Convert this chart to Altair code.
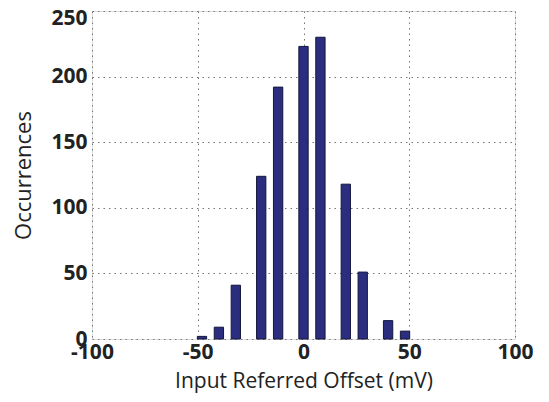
import altair as alt
import pandas as pd

offsets = [-48, -40, -32, -20, -12, 0, 8, 20, 28, 40, 48]
counts = [2, 9, 41, 124, 192, 223, 230, 118, 51, 14, 6]
half_width = 2.2

df = pd.DataFrame({"offset": offsets, "count": counts})
df["x0"] = df["offset"] - half_width
df["x1"] = df["offset"] + half_width

xs = alt.Scale(domain=[-100, 100], nice=False, zero=False)
ys = alt.Scale(domain=[0, 250], nice=False)

font = "Open Sans"

xaxis = alt.Axis(values=[-100, -50, 0, 50, 100], title="Input Referred Offset (mV)",
                 grid=True, gridDash=[1.5, 4], gridColor="#777", gridOpacity=1,
                 ticks=False, domain=False, labelFontSize=21, labelFontWeight="bold",
                 labelFont=font, labelColor="#222", labelPadding=2,
                 labelExpr="toString(datum.value)",
                 titleFont=font, titleFontSize=21, titleFontWeight="normal", titleColor="#222",
                 titlePadding=8, labelFlush=False)
yaxis = alt.Axis(values=[0, 50, 100, 150, 200, 250], title="Occurrences",
                 grid=True, gridDash=[1.5, 4], gridColor="#777", gridOpacity=1,
                 ticks=False, domain=False, labelFontSize=21, labelFontWeight="bold",
                 labelFont=font, labelColor="#222", labelPadding=5,
                 labelOffset={"condition": {"test": "datum.value == 250", "value": 7},
                              "value": 0},
                 titleFont=font, titleFontSize=22, titleFontWeight="normal", titleColor="#222",
                 titlePadding=15)

shadow = alt.Chart(df).mark_bar(color="#999", opacity=0.6, xOffset=1.5).encode(
    x=alt.X("x0:Q", scale=xs, axis=xaxis),
    x2="x1:Q",
    y=alt.Y("count:Q", scale=ys, axis=yaxis),
    y2=alt.datum(0),
)
bars = alt.Chart(df).mark_bar(color="#2b2e7e", stroke="#15173f", strokeWidth=1).encode(
    x=alt.X("x0:Q", scale=xs),
    x2="x1:Q",
    y=alt.Y("count:Q", scale=ys),
    y2=alt.datum(0),
)

chart = (shadow + bars).properties(
    width=423, height=328,
    autosize=alt.AutoSizeParams(type="none"),
    padding={"left": 84, "top": 3, "right": 20, "bottom": 55},
).configure_view(stroke="#222", strokeWidth=1.5).configure(background="white")

chart.save("out.html", embed_options={"renderer": "svg", "actions": False})
